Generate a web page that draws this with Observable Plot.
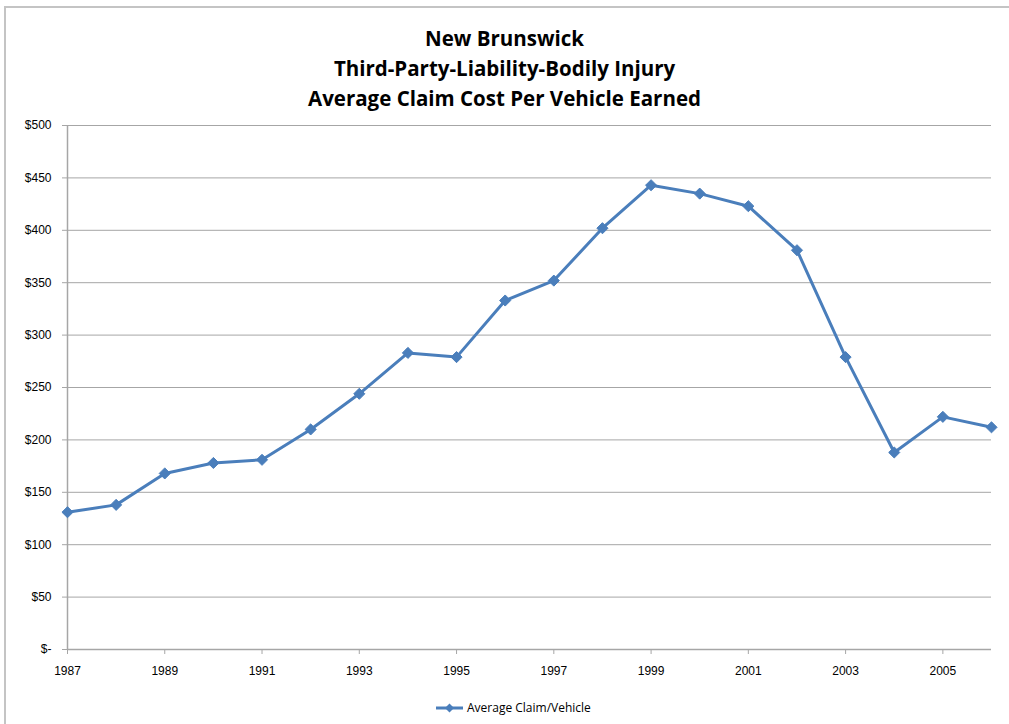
<!DOCTYPE html>
<html>
<head>
<meta charset="utf-8">
<script src="https://cdn.jsdelivr.net/npm/d3@7"></script>
<script src="https://cdn.jsdelivr.net/npm/@observablehq/plot@0.6"></script>
<style>
  html, body { margin: 0; padding: 0; background: #fff; }
  #wrap { position: relative; width: 1009px; height: 724px; overflow: hidden; font-family: "Open Sans", "Liberation Sans", sans-serif; }
  #frame { position: absolute; left: 4px; top: 6px; width: 1100px; height: 800px; border-left: 2px solid #c4c4c4; border-top: 2px solid #c4c4c4; }
  #title { position: absolute; left: 0; top: 23px; width: 1009px; text-align: center; font-weight: bold; font-size: 20.5px; line-height: 30px; color: #000; }
  #chart { position: absolute; left: 0; top: 115px; }
  #legend { position: absolute; left: 436px; top: 699px; font-size: 12px; color: #000; display: flex; align-items: center; }
</style>
</head>
<body>
<div id="wrap">
  <div id="frame"></div>
  <div id="title"></div>
  <div id="chart"></div>
  <div id="legend"></div>
</div>
<script>
const titleLines = ["New Brunswick", "Third-Party-Liability-Bodily Injury", "Average Claim Cost Per Vehicle Earned"];
const seriesName = "Average Claim/Vehicle";
const years = [1987, 1988, 1989, 1990, 1991, 1992, 1993, 1994, 1995, 1996, 1997, 1998, 1999, 2000, 2001, 2002, 2003, 2004, 2005, 2006];
const values = [131, 138, 168, 178, 181, 210, 244, 283, 279, 333, 352, 402, 443, 435, 423, 381, 279, 188, 222, 212];
const xTicks = [1987, 1989, 1991, 1993, 1995, 1997, 1999, 2001, 2003, 2005];
const yTicks = [0, 50, 100, 150, 200, 250, 300, 350, 400, 450, 500];

const blue = "#4a7ebb";
const grid = "#a6a6a6";

document.getElementById("title").innerHTML = titleLines.map(t => `<div>${t}</div>`).join("");

const data = years.map((y, i) => ({year: y, value: values[i]}));

const chart = Plot.plot({
  width: 1009,
  height: 575,
  marginTop: 10,
  marginBottom: 41,
  marginLeft: 67,
  marginRight: 18,
  style: {fontFamily: "'Liberation Sans', Arial, sans-serif", fontSize: "12px", color: "#000", background: "transparent"},
  x: {domain: [1987, 2006], ticks: xTicks, tickFormat: d => String(d), label: null},
  y: {domain: [0, 500], ticks: yTicks, tickFormat: d => d === 0 ? "$-" : "$" + d, label: null},
  marks: [
    Plot.ruleY(yTicks.filter(d => d > 0), {stroke: grid, strokeWidth: 1}),
    Plot.ruleY([0], {stroke: grid, strokeWidth: 1.5}),
    Plot.ruleX([1987], {stroke: grid, strokeWidth: 1.5}),
    Plot.axisX({ticks: xTicks, tickFormat: d => String(d), tickSize: 5, tickPadding: 12, stroke: grid, fill: "#000", label: null}),
    Plot.axisY({ticks: yTicks, tickFormat: d => d === 0 ? "$-" : "$" + d, tickSize: 5, tickPadding: 11, stroke: grid, fill: "#000", label: null}),
    Plot.line(data, {x: "year", y: "value", stroke: blue, strokeWidth: 3}),
    Plot.dot(data, {x: "year", y: "value", symbol: "diamond2", r: 5, fill: blue, stroke: blue, strokeWidth: 1})
  ]
});
document.getElementById("chart").appendChild(chart);

const leg = document.getElementById("legend");
leg.innerHTML = `<svg width="28" height="14"><line x1="0" y1="7" x2="27" y2="7" stroke="${blue}" stroke-width="3"/><path d="M13.5,2.5 L18,7 L13.5,11.5 L9,7 Z" fill="${blue}"/></svg><span style="margin-left:3px">${seriesName}</span>`;
</script>
</body>
</html>
